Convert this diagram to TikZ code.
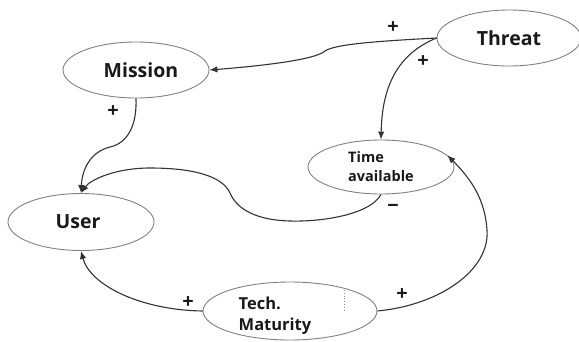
\documentclass[tikz,border=0pt]{standalone}
\usepackage{fontspec}
\setmainfont{Open Sans}
\usetikzlibrary{arrows.meta,shapes.geometric}
\begin{document}
\begin{tikzpicture}[x=1pt,y=-1pt,
 ell/.style={draw=black!50, line width=0.9pt, ellipse, inner sep=0pt},
 big/.style={font=\bfseries\fontsize{19.5}{21}\selectfont, text=black!90},
 small/.style={font=\bfseries\fontsize{14.5}{19}\selectfont, align=left, text=black!90},
 mid/.style={font=\bfseries\fontsize{16.5}{21}\selectfont, align=left, text=black!90},
 conn/.style={draw=black!80, line width=1.1pt, -{Latex[length=8pt,width=6.5pt]}},
 sign/.style={font=\bfseries\fontsize{20}{20}\selectfont, text=black!90}]
\useasboundingbox (0,0) rectangle (579,341);

\node[ell, big, minimum width=146pt, minimum height=56pt] (mission) at (136,70) {\hspace*{10pt}Mission};
\node[ell, big, minimum width=144pt, minimum height=56pt] (threat) at (509,38) {Threat};
\node[ell, small, minimum width=146pt, minimum height=54pt] (time) at (381,167) {Time\\available};
\node[ell, big, minimum width=146pt, minimum height=57pt] (user) at (81,222) {User\hspace*{6pt}};
\node[ell, minimum width=174pt, minimum height=58pt] (tech) at (290,311) {};
\node[mid] (techtext) at (275,316) {Tech.\\Maturity};
\draw[black!45, dotted, line width=0.8pt] ([xshift=54pt,yshift=21pt]tech.center) -- ([xshift=54pt,yshift=1pt]tech.center);

% Threat -> Mission
\draw[conn] (threat.west) .. controls (380,41) and (335,44) .. (325,51)
  .. controls (315,60) and (260,66) .. (mission.east);
% Threat -> Time
\draw[conn] (threat.west) .. controls (395,55) and (382,90) .. (time.north);
% Mission -> User
\draw[conn] (mission.south) .. controls (137,125) and (128,143) .. (110,147)
  .. controls (90,152) and (82,170) .. (user.north);
% Time -> User
\draw[conn] (time.south) .. controls (370,215) and (320,222) .. (290,221)
  .. controls (250,220) and (235,205) .. (230,193)
  .. controls (222,175) and (190,168) .. (150,168)
  .. controls (115,168) and (90,180) .. (user.north);
% Tech -> User
\draw[conn] (tech.west) .. controls (140,310) and (90,285) .. (user.south);
% Tech -> Time
\draw[conn] (tech.east) .. controls (440,305) and (490,270) .. (487,230)
  .. controls (485,200) and (472,180) .. (time.10);

\node[sign] (s1) at (393,28) {+};
\node[sign] (s2) at (423,62) {+};
\node[sign] (s3) at (113,112) {+};
\node[sign] (s4) at (393,208) {−};
\node[sign] (s5) at (188,303) {+};
\node[sign] (s6) at (402,295) {+};
\end{tikzpicture}
\end{document}
